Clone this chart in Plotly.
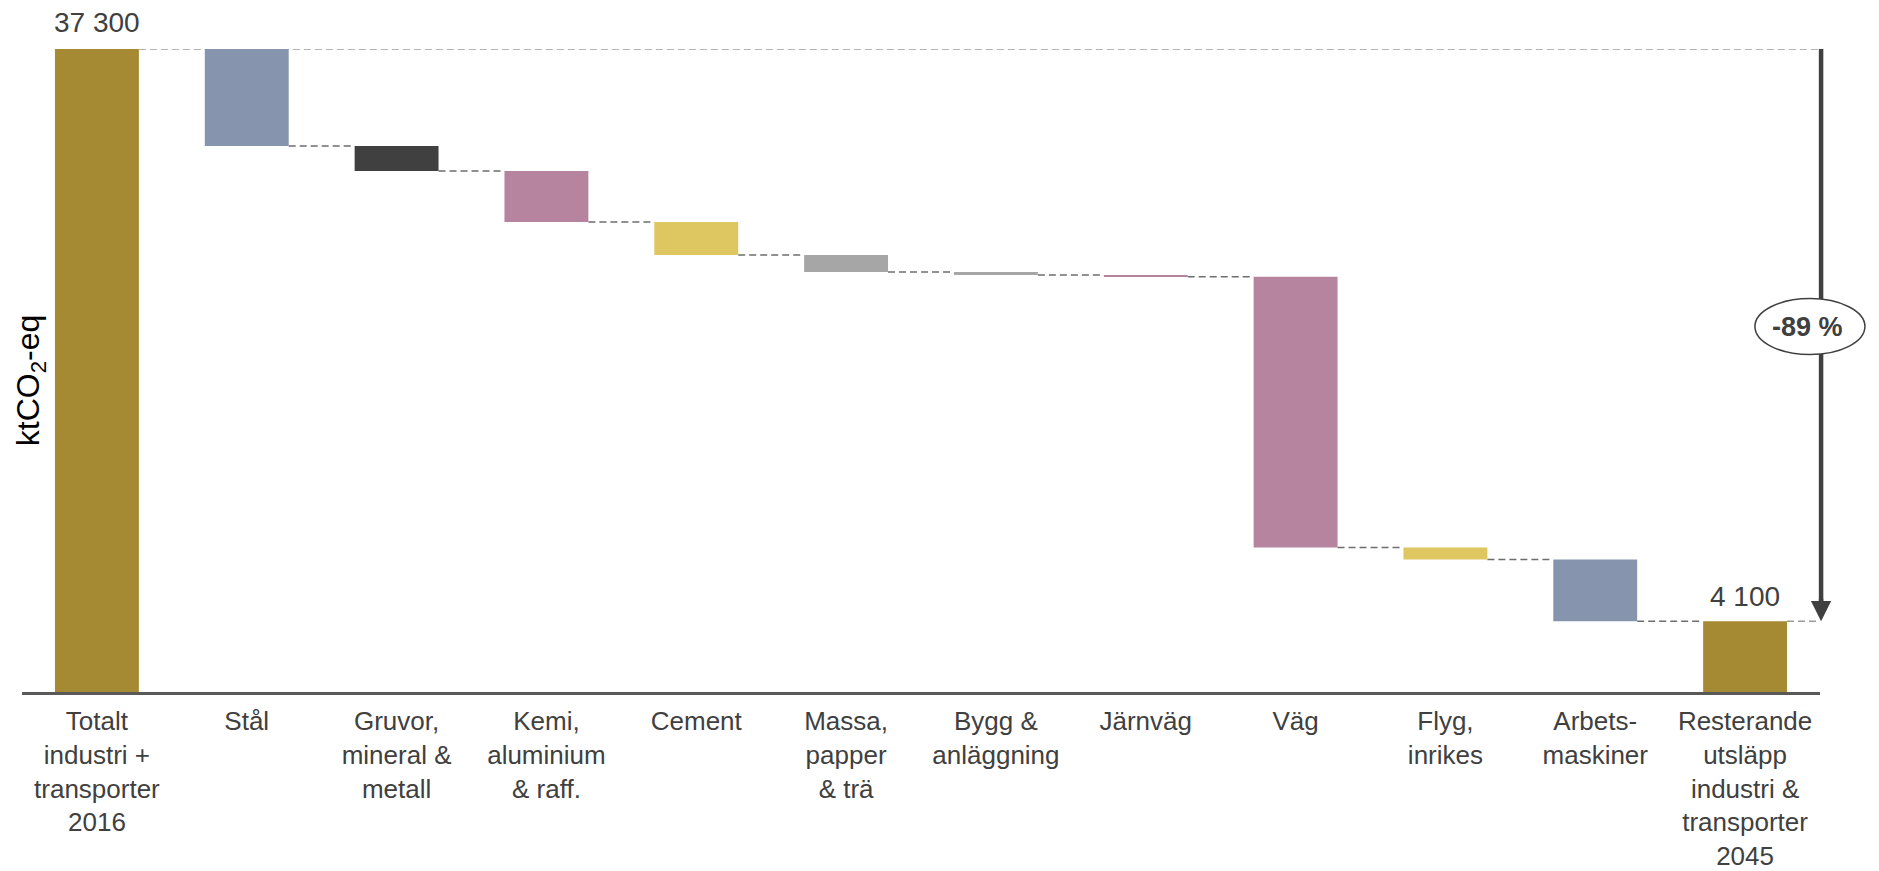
import plotly.graph_objects as go

# ---------------- data ----------------
categories = [
    "Totalt<br>industri +<br>transporter<br>2016",
    "Stål",
    "Gruvor,<br>mineral &<br>metall",
    "Kemi,<br>aluminium<br>& raff.",
    "Cement",
    "Massa,<br>papper<br>& trä",
    "Bygg &<br>anläggning",
    "Järnväg",
    "Väg",
    "Flyg,<br>inrikes",
    "Arbets-<br>maskiner",
    "Resterande<br>utsläpp<br>industri &<br>transporter<br>2045",
]
start_total = 37300
reductions = [5630, 1450, 2960, 1910, 990, 170, 100, 15710, 690, 3590]
bar_colors = ["#A68A33", "#8794AE", "#404040", "#B784A0", "#DEC660", "#A6A6A6",
              "#A6A6A6", "#B784A0", "#B784A0", "#DEC660", "#8794AE", "#A68A33"]
y_title = "ktCO<sub>2</sub>-eq"

# ---------------- derived ----------------
levels = [start_total]
for r in reductions:
    levels.append(levels[-1] - r)
end_total = levels[-1]

x_idx = list(range(len(categories)))
heights = [start_total] + [-r for r in reductions] + [end_total]
bases = [0] + levels[:-1] + [0]
pct = round((end_total - start_total) / start_total * 100)

def fmt(v):
    return f"{v:,}".replace(",", " ")

txt_col = "#404040"
fig = go.Figure()
fig.add_trace(go.Bar(
    x=x_idx, y=heights, base=bases,
    marker=dict(color=bar_colors, line=dict(width=0)),
    width=0.56, hoverinfo="skip", showlegend=False,
))

half = 0.28
arrow_px = 1.0006      # paper x of the arrow
ell_px = 0.9944        # paper x of the ellipse centre
ell_y = 21200
shapes = []
dash_dark = dict(color="#6E6E6E", width=1.5, dash="7px,4px")
dash_light = dict(color="#9A9A9A", width=1.5, dash="7px,4px")
# top reference line
shapes.append(dict(type="line", xref="x", yref="y", x0=0 + half, x1=11.51,
                   y0=start_total, y1=start_total, line=dash_light, layer="below"))
# connectors
for i in range(1, len(categories) - 1):
    shapes.append(dict(type="line", xref="x", yref="y", x0=i + half, x1=i + 1 - half,
                       y0=levels[i], y1=levels[i], line=dash_dark, layer="below"))
# bottom reference line
shapes.append(dict(type="line", xref="x", yref="y", x0=len(categories) - 1 + half, x1=11.51,
                   y0=end_total, y1=end_total, line=dash_light, layer="below"))
# arrow shaft
shapes.append(dict(type="line", xref="paper", yref="y", x0=arrow_px, x1=arrow_px,
                   y0=start_total, y1=end_total + 700, line=dict(color="#404040", width=4.5)))
# ellipse
shapes.append(dict(type="circle", xref="paper", yref="y", xsizemode="pixel", ysizemode="pixel",
                   xanchor=ell_px, yanchor=ell_y, x0=-55, x1=55, y0=-28, y1=28,
                   fillcolor="white", line=dict(color="#404040", width=1.5)))

annotations = [
    dict(x=0, y=start_total, xref="x", yref="y", text=fmt(start_total), showarrow=False,
         yanchor="bottom", yshift=9, font=dict(size=28, color=txt_col)),
    dict(x=len(categories) - 1, y=end_total, xref="x", yref="y", text=fmt(end_total),
         showarrow=False, yanchor="bottom", yshift=7, font=dict(size=28, color=txt_col)),
    dict(x=ell_px, y=ell_y, xref="paper", yref="y", text=f"<b>{pct} %</b>", showarrow=False,
         xanchor="center", yanchor="middle", xshift=-2, font=dict(size=27, color=txt_col)),
    dict(x=arrow_px, y=end_total, xref="paper", yref="y", ax=0, ay=-24, axref="pixel", ayref="pixel",
         text="", showarrow=True, arrowhead=2, arrowsize=0.9, arrowwidth=4.5,
         arrowcolor="#404040", standoff=0),
    dict(x=0.0045, y=0.485, xref="paper", yref="paper", text=y_title, showarrow=False,
         textangle=-90, xanchor="center", yanchor="middle",
         font=dict(size=32, color="black", family="Liberation Sans, Arial")),
]

fig.update_layout(
    width=1879, height=871,
    margin=dict(l=14, r=67, t=41, b=187, autoexpand=False),
    paper_bgcolor="white", plot_bgcolor="white",
    font=dict(family="Liberation Sans, Arial, sans-serif", color=txt_col),
    shapes=shapes, annotations=annotations, bargap=0.44,
    xaxis=dict(range=[-0.5, 11.5], tickmode="array", tickvals=x_idx, ticktext=categories,
               showgrid=False, zeroline=False, showline=True, linecolor="#595959", linewidth=2.5,
               ticks="", tickfont=dict(size=26, color=txt_col), tickangle=0,
               ticklabelstandoff=4, automargin=False, fixedrange=True),
    yaxis=dict(range=[0, start_total], showgrid=False, zeroline=False, showline=False,
               showticklabels=False, ticks="", automargin=False, fixedrange=True),
)
fig.update_traces(cliponaxis=False)
fig.write_html("out.html")
